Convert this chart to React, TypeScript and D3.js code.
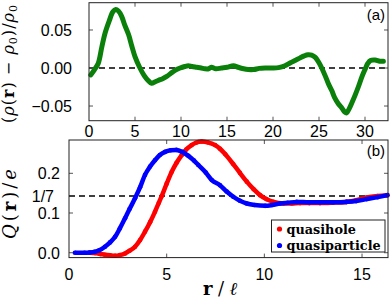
import React, { useEffect, useRef } from 'react';
import * as d3 from 'd3';

// panel (a): density deviation
const rhoR = [0.2, 0.6, 1.0, 1.4, 1.75, 2.2, 2.6, 2.9, 3.2, 3.55, 3.9, 4.3, 4.65, 5.0, 5.5, 6.0, 6.4, 6.8, 7.2, 7.6, 8.0, 8.45, 8.9, 9.35, 9.9, 10.4, 10.8, 11.2, 11.7, 12.2, 12.6, 13.0, 13.3, 13.8, 14.4, 15.0, 15.7, 16.2, 16.8, 17.3, 17.9, 18.5, 19.2, 19.9, 20.6, 21.3, 21.9, 22.4, 22.9, 23.4, 23.8, 24.2, 24.6, 25.0, 25.3, 25.7, 26.0, 26.4, 26.7, 27.1, 27.5, 27.8, 28.0, 28.3, 28.6, 28.95, 29.3, 29.65, 30.0, 30.3, 30.6, 31.1, 31.6, 32.0];
const rhoDev = [-0.009, -0.002, 0.006, 0.028, 0.046, 0.062, 0.074, 0.077, 0.075, 0.068, 0.056, 0.044, 0.029, 0.015, 0.001, -0.010, -0.016, -0.020, -0.018, -0.016, -0.014, -0.011, -0.007, -0.003, 0.000, 0.002, 0.003, 0.002, 0.001, 0.000, -0.001, -0.001, 0.001, -0.001, 0.000, 0.001, 0.003, 0.001, -0.001, -0.002, -0.002, -0.0005, 0.000, 0.000, 0.0005, 0.003, 0.007, 0.010, 0.013, 0.016, 0.0175, 0.017, 0.014, 0.007, 0.000, -0.011, -0.020, -0.030, -0.039, -0.047, -0.053, -0.058, -0.059, -0.053, -0.045, -0.035, -0.024, -0.012, -0.002, 0.006, 0.010, 0.0105, 0.009, 0.009];

// panel (b): accumulated charge
const holeR = [1.05, 1.33, 1.6, 1.84, 2.1, 2.36, 2.6, 2.87, 3.1, 3.38, 3.64, 3.89, 4.15, 4.4, 4.6, 4.75, 5.0, 5.26, 5.5, 5.77, 6.0, 6.28, 6.5, 6.79, 7.1, 7.48, 7.73, 8.0, 8.41, 8.75, 9.1, 9.45, 9.78, 10.1, 10.46, 10.97, 11.4, 11.83, 12.3, 12.85, 13.5, 14.2, 14.7, 15.24, 15.8, 16.3];
const holeQ = [0.0, -0.001, -0.003, -0.005, -0.0065, -0.0075, -0.006, -0.002, 0.005, 0.015, 0.032, 0.053, 0.077, 0.103, 0.126, 0.143, 0.174, 0.204, 0.226, 0.246, 0.260, 0.271, 0.277, 0.280, 0.278, 0.271, 0.262, 0.248, 0.223, 0.201, 0.179, 0.160, 0.145, 0.135, 0.128, 0.124, 0.124, 0.125, 0.125, 0.125, 0.126, 0.128, 0.132, 0.139, 0.143, 0.145];
const partR = [0.3, 0.8, 1.05, 1.3, 1.55, 1.84, 2.1, 2.36, 2.6, 2.87, 3.1, 3.38, 3.64, 3.89, 4.15, 4.4, 4.65, 4.92, 5.2, 5.5, 5.8, 6.11, 6.4, 6.62, 7.0, 7.31, 7.73, 8.07, 8.41, 8.75, 9.1, 9.5, 10.04, 10.4, 10.8, 11.2, 11.66, 12.3, 12.85, 13.5, 14.2, 14.7, 15.24, 15.8, 16.3];
const partQ = [0.0, 0.0, 0.0005, 0.002, 0.006, 0.015, 0.026, 0.040, 0.061, 0.087, 0.110, 0.137, 0.165, 0.196, 0.217, 0.233, 0.246, 0.254, 0.258, 0.259, 0.254, 0.244, 0.232, 0.221, 0.202, 0.183, 0.170, 0.154, 0.141, 0.131, 0.124, 0.120, 0.118, 0.120, 0.124, 0.126, 0.128, 0.127, 0.127, 0.127, 0.128, 0.130, 0.135, 0.140, 0.145];

const xTicksA = [0, 5, 10, 15, 20, 25, 30];
const yTicksA = [-0.05, 0, 0.05];
const xTicksB = [0, 5, 10, 15];
const yTicksB = [0, 0.1, 0.2];

const legendItems = [
  { label: 'quasihole', color: '#ff0000' },
  { label: 'quasiparticle', color: '#0000ff' },
];

const sans = '"Liberation Sans", Arial, sans-serif';
const serif = '"DejaVu Serif", "Liberation Serif", serif';

const App = () => {
  const svgRef = useRef<SVGSVGElement>(null);

  useEffect(() => {
    const svg = d3.select(svgRef.current);
    svg.selectAll('*').remove();

    // framed panel with inward ticks on all four sides
    const frame = (x: any, y: any, xt: number[], yt: number[]) => {
      const [x0, x1] = x.range();
      const [y0, y1] = y.range();
      const g = svg.append('g');
      g.selectAll('.xt').data(xt).enter().append('path')
        .attr('d', d => `M${x(d)},${y0}v-4M${x(d)},${y1}v4`)
        .attr('stroke', '#555').attr('stroke-width', 1);
      g.selectAll('.yt').data(yt).enter().append('path')
        .attr('d', d => `M${x0},${y(d)}h4M${x1},${y(d)}h-4`)
        .attr('stroke', '#555').attr('stroke-width', 1);
      g.append('rect')
        .attr('x', x0).attr('y', y1)
        .attr('width', x1 - x0).attr('height', y0 - y1)
        .attr('fill', 'none').attr('stroke', '#222').attr('stroke-width', 1);
      return g;
    };

    // ---- panel (a)
    const xA = d3.scaleLinear().domain([0, 32.5]).range([89, 388]);
    const yA = d3.scaleLinear().domain([-0.0693, 0.0859]).range([120.7, 2.7]);

    svg.append('line')
      .attr('x1', xA(0)).attr('x2', xA(32.5))
      .attr('y1', yA(0)).attr('y2', yA(0))
      .attr('stroke', '#000').attr('stroke-width', 1.5)
      .attr('stroke-dasharray', '6,4');

    const lineA = d3.line<number[]>()
      .x(d => xA(d[0])).y(d => yA(d[1]))
      .curve(d3.curveCatmullRom.alpha(0.5));

    svg.append('path')
      .datum(rhoR.map((r, i) => [r, rhoDev[i]]))
      .attr('fill', 'none')
      .attr('stroke', '#0a800a')
      .attr('stroke-width', 5)
      .attr('stroke-linejoin', 'round')
      .attr('stroke-linecap', 'round')
      .attr('d', lineA);

    frame(xA, yA, xTicksA.slice(1), yTicksA);

    svg.selectAll('.xla').data(xTicksA).enter().append('text')
      .attr('x', d => xA(d)).attr('y', 137)
      .attr('text-anchor', 'middle')
      .style('font-family', sans).style('font-size', '16px')
      .text(d => d);
    svg.selectAll('.yla').data(yTicksA).enter().append('text')
      .attr('x', 72).attr('y', d => yA(d) + 6)
      .attr('text-anchor', 'end')
      .style('font-family', sans).style('font-size', '16px')
      .text(d => d3.format('.2f')(d));
    svg.append('text')
      .attr('x', 385).attr('y', 20).attr('text-anchor', 'end')
      .style('font-family', sans).style('font-size', '15px')
      .text('(a)');

    const labA = svg.append('text')
      .attr('transform', 'translate(14,64) rotate(-90)')
      .attr('text-anchor', 'middle')
      .attr('textLength', 118).attr('lengthAdjust', 'spacing')
      .style('font-family', serif).style('font-size', '16px');
    labA.append('tspan').text('(');
    labA.append('tspan').style('font-style', 'italic').text('ρ');
    labA.append('tspan').text('(');
    labA.append('tspan').style('font-weight', 'bold').text('r');
    labA.append('tspan').text(') − ');
    labA.append('tspan').style('font-style', 'italic').text('ρ');
    labA.append('tspan').attr('font-size', '11px').attr('dy', 3).text('0');
    labA.append('tspan').attr('dy', -3).text(')/');
    labA.append('tspan').style('font-style', 'italic').text('ρ');
    labA.append('tspan').attr('font-size', '11px').attr('dy', 3).text('0');

    // ---- panel (b)
    const xB = d3.scaleLinear().domain([0, 16.33]).range([69, 388]);
    const yB = d3.scaleLinear().domain([-0.0123, 0.2839]).range([257.6, 140]);

    svg.append('line')
      .attr('x1', xB(0)).attr('x2', xB(16.33))
      .attr('y1', yB(1 / 7)).attr('y2', yB(1 / 7))
      .attr('stroke', '#000').attr('stroke-width', 1.5)
      .attr('stroke-dasharray', '6,4');

    const lineB = d3.line<number[]>()
      .x(d => xB(d[0])).y(d => yB(d[1]))
      .curve(d3.curveMonotoneX);

    [
      { r: holeR, q: holeQ, color: '#ff0000' },
      { r: partR, q: partQ, color: '#0000ff' },
    ].forEach(s => {
      const pts = s.r.map((r, i) => [r, s.q[i]]);
      svg.append('path')
        .datum(pts)
        .attr('fill', 'none')
        .attr('stroke', s.color)
        .attr('stroke-width', 4.5)
        .attr('stroke-linejoin', 'round')
        .attr('d', lineB);
      svg.append('g').selectAll('circle').data(pts).enter().append('circle')
        .attr('cx', d => xB(d[0])).attr('cy', d => yB(d[1]))
        .attr('r', 2.3).attr('fill', s.color);
    });

    frame(xB, yB, xTicksB.slice(1), yTicksB);

    svg.selectAll('.xlb').data(xTicksB).enter().append('text')
      .attr('x', d => xB(d)).attr('y', 280)
      .attr('text-anchor', 'middle')
      .style('font-family', sans).style('font-size', '16px')
      .text(d => d);
    svg.selectAll('.ylb').data(yTicksB).enter().append('text')
      .attr('x', 60).attr('y', d => yB(d) + 6)
      .attr('text-anchor', 'end')
      .style('font-family', sans).style('font-size', '16px')
      .text(d => d3.format('.1f')(d));
    svg.append('text')
      .attr('x', 54).attr('y', yB(1 / 7) + 6)
      .attr('text-anchor', 'end')
      .style('font-family', sans).style('font-size', '16px')
      .text('1/7');
    svg.append('text')
      .attr('x', 385).attr('y', 156).attr('text-anchor', 'end')
      .style('font-family', sans).style('font-size', '15px')
      .text('(b)');

    const labB = svg.append('text')
      .attr('transform', 'translate(16,204) rotate(-90)')
      .attr('text-anchor', 'middle')
      .attr('textLength', 70).attr('lengthAdjust', 'spacing')
      .style('font-family', serif).style('font-size', '18px');
    labB.append('tspan').style('font-style', 'italic').text('Q');
    labB.append('tspan').text('(');
    labB.append('tspan').style('font-weight', 'bold').text('r');
    labB.append('tspan').text(')/');
    labB.append('tspan').style('font-style', 'italic').text('e');

    const labX = svg.append('text')
      .attr('x', 220).attr('y', 295)
      .attr('text-anchor', 'middle')
      .attr('textLength', 34).attr('lengthAdjust', 'spacing')
      .style('font-family', serif).style('font-size', '18px');
    labX.append('tspan').style('font-weight', 'bold').text('r');
    labX.append('tspan').text('/');
    labX.append('tspan').style('font-style', 'italic').text('ℓ');

    // legend
    const lg = svg.append('g');
    lg.append('rect')
      .attr('x', 271.5).attr('y', 220)
      .attr('width', 113.5).attr('height', 32)
      .attr('fill', '#fff').attr('stroke', '#222').attr('stroke-width', 1);
    legendItems.forEach((it, i) => {
      lg.append('circle')
        .attr('cx', 279.5).attr('cy', 229 + i * 16.5)
        .attr('r', 2.6).attr('fill', it.color);
      lg.append('text')
        .attr('x', 286.5).attr('y', 234 + i * 15.5)
        .style('font-family', '"DejaVu Serif", serif')
        .style('font-weight', 'bold').style('font-size', '12.8px')
        .text(it.label);
    });
  }, []);

  return (
    <div style={{ position: 'absolute', left: 0, top: 0 }}>
      <svg ref={svgRef} width={390} height={307} style={{ display: 'block' }} />
    </div>
  );
};

export default App;
